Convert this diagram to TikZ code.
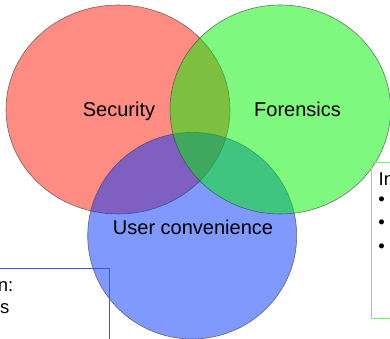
\documentclass[tikz,border=0pt]{standalone}
\usepackage{fontspec}
\setmainfont{Liberation Sans}
\usepackage{xcolor}
\definecolor{vennred}{RGB}{255,26,6}
\definecolor{venngreen}{RGB}{0,242,0}
\definecolor{vennblue}{RGB}{0,52,255}
\definecolor{boxblue}{RGB}{50,85,255}
\definecolor{boxgreen}{RGB}{100,250,100}

\begin{document}
\begin{tikzpicture}[x=1pt,y=-1pt,
    setfill/.style={fill=#1,fill opacity=0.5,draw=black!75,draw opacity=0.7,line width=0.6pt},
    setlabel/.style={anchor=base,font=\fontsize{20}{22}\selectfont},
    boxtext/.style={font=\fontsize{18.5}{22}\selectfont,inner sep=0pt}]
  \useasboundingbox (0,0) rectangle (390,339);
  \clip (0,0) rectangle (390,339);
  \fill[white] (0,0) rectangle (390,339);
  % the three sets
  \draw[setfill=vennred] (118,109.5) ellipse (112 and 104.5);
  \draw[setfill=vennblue] (192.2,235.7) ellipse (104.5 and 103.3);
  \draw[setfill=venngreen] (280.3,109.5) ellipse (110.3 and 104.5);
  \node[setlabel] (sec) at (119,117) {Security};
  \node[setlabel] (for) at (297.5,117) {Forensics};
  \node[setlabel] (usr) at (193,234) {User convenience};
  % side boxes, cut off by the edge
  \draw[boxblue,line width=0.6pt] (-5,268) -- (109,268) -- (109,345);
  \node[boxtext,anchor=base east] (lft1) at (13.5,291.5) {n:};
  \node[boxtext,anchor=base east] (lft2) at (9.5,313.5) {s};
  \draw[boxgreen,line width=0.8pt] (395,162) -- (371,162) -- (371,318) -- (395,318);
  \node[boxtext,anchor=base west] (rgt0) at (378.5,185.5) {In};
  \foreach \y/\n in {201/1,224/2,248/3}
    \node[boxtext] (rgt\n) at (381.5,\y) {\textbullet};
\end{tikzpicture}
\end{document}
